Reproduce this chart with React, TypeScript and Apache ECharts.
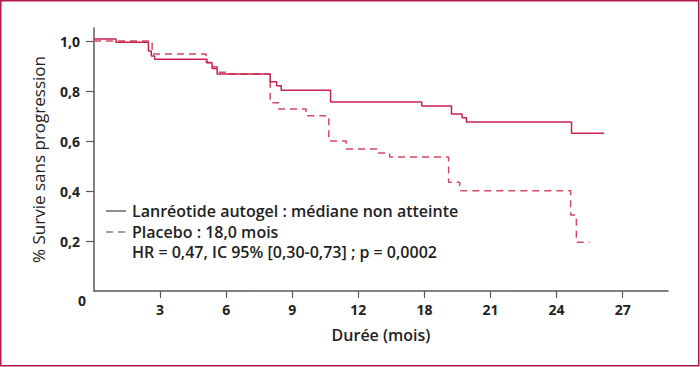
import React, { useEffect, useRef } from "react";
import * as echarts from "echarts";

// Kaplan-Meier steps: [time (months), survival]
const lanreotideTimes = [0, 1.0, 2.47, 2.6, 2.75, 5.13, 5.36, 5.59, 8.0, 8.29, 8.5, 10.74, 14.88, 16.23, 16.71, 16.91, 21.68, 23.16];
const lanreotideSurv = [1.008, 0.995, 0.96, 0.94, 0.927, 0.913, 0.89, 0.868, 0.837, 0.821, 0.803, 0.756, 0.74, 0.708, 0.693, 0.676, 0.631, 0.631];

const placeboTimes = [0, 2.64, 5.09, 5.35, 5.6, 6.0, 8.0, 8.38, 9.63, 10.66, 11.45, 12.86, 13.42, 16.1, 16.6, 21.64, 21.9, 22.5];
const placeboSurv = [1.0, 0.948, 0.914, 0.897, 0.875, 0.867, 0.753, 0.728, 0.701, 0.6, 0.568, 0.552, 0.536, 0.435, 0.401, 0.304, 0.195, 0.195];

// tick labels as printed on the original figure (one per 3-month tick)
const xTickValues = [3, 6, 9, 12, 15, 18, 21, 24];
const xTickLabels = ["", "3", "6", "9", "12", "18", "21", "24", "27"];
const yTickValues = [0.2, 0.4, 0.6, 0.8, 1.0];
const yTickLabels = ["", "0,2", "0,4", "0,6", "0,8", "1,0"];

const legendLines = [
  "Lanréotide autogel : médiane non atteinte",
  "Placebo : 18,0 mois",
  "HR = 0,47, IC 95% [0,30-0,73] ; p = 0,0002",
];

const FONT = "'Open Sans', 'Noto Sans', sans-serif";

export default function App() {
  const ref = useRef<HTMLDivElement>(null);
  useEffect(() => {
    if (!ref.current) return;
    const chart = echarts.init(ref.current, null, { renderer: "svg" });
    const solid = lanreotideTimes.map((t, i) => [t, lanreotideSurv[i]]);
    const dashed = placeboTimes.map((t, i) => [t, placeboSurv[i]]);
    const axisColor = "#5a5a5a";
    chart.setOption({
      animation: false,
      backgroundColor: "#ffffff",
      textStyle: { fontFamily: FONT },
      grid: { left: 94, top: 28, right: 32, bottom: 76 },
      xAxis: {
        type: "value",
        min: 0,
        max: 26.06,
        interval: 3,
        name: "Durée (mois)",
        nameLocation: "middle",
        nameGap: 36,
        nameTextStyle: { fontSize: 16, fontWeight: 600, color: "#222", fontFamily: FONT },
        axisLine: { lineStyle: { color: axisColor, width: 1.5 } },
        axisTick: { show: true, length: 7, lineStyle: { color: axisColor, width: 1.2 }, customValues: xTickValues },
        axisLabel: {
          margin: 11,
          fontSize: 14,
          fontWeight: 700,
          color: "#222",
          fontFamily: FONT,
          customValues: xTickValues,
          formatter: (v: number) => xTickLabels[Math.round(v / 3)] ?? "",
        },
        splitLine: { show: false },
      },
      yAxis: {
        type: "value",
        min: 0,
        max: 1.052,
        interval: 0.2,
        name: "% Survie sans progression",
        nameLocation: "middle",
        nameGap: 47,
        nameRotate: 90,
        nameTextStyle: { fontSize: 17, color: "#222", fontFamily: FONT },
        axisLine: { show: true, lineStyle: { color: axisColor, width: 1.5 } },
        axisTick: {
          show: true,
          length: 8,
          lineStyle: { color: axisColor, width: 1.2 },
          customValues: yTickValues,
        },
        axisLabel: {
          margin: 14,
          fontSize: 14,
          fontWeight: 700,
          color: "#222",
          fontFamily: FONT,
          customValues: yTickValues,
          formatter: (v: number) => yTickLabels[Math.round(v / 0.2)] ?? "",
        },
        splitLine: { show: false },
      },
      series: [
        {
          type: "line",
          name: "Lanréotide",
          step: "end",
          data: solid,
          symbol: "none",
          lineStyle: { color: "#c8234f", width: 1.5 },
          z: 3,
        },
        {
          type: "line",
          name: "Placebo",
          step: "end",
          data: dashed,
          symbol: "none",
          lineStyle: { color: "#d04a60", width: 1.5, type: [7, 5] },
          z: 2,
        },
      ],
      graphic: [
        {
          type: "rect",
          shape: { x: 0.75, y: 0.75, width: 698, height: 365 },
          style: { fill: "none", stroke: "#b3184c", lineWidth: 1.5 },
          silent: true,
        },
        {
          type: "text",
          x: 82,
          y: 300,
          style: { text: "0", fontSize: 14, fontWeight: 700, fill: "#222", fontFamily: FONT, align: "center", verticalAlign: "middle" },
        },
        {
          type: "line",
          shape: { x1: 106, y1: 211, x2: 126, y2: 211 },
          style: { stroke: "#444", lineWidth: 1.2 },
        },
        {
          type: "line",
          shape: { x1: 106, y1: 232, x2: 126, y2: 232 },
          style: { stroke: "#444", lineWidth: 1.2, lineDash: [7, 5] },
        },
        ...legendLines.map((t, i) => ({
          type: "text",
          x: 132,
          y: [211, 231.5, 252][i],
          style: { text: t, fontSize: 16, fontWeight: 600, fill: "#222", fontFamily: FONT, verticalAlign: "middle" },
        })),
      ],
    });
    return () => chart.dispose();
  }, []);
  return <div ref={ref} style={{ position: "absolute", left: 0, top: 0, width: 700, height: 367 }} />;
}
